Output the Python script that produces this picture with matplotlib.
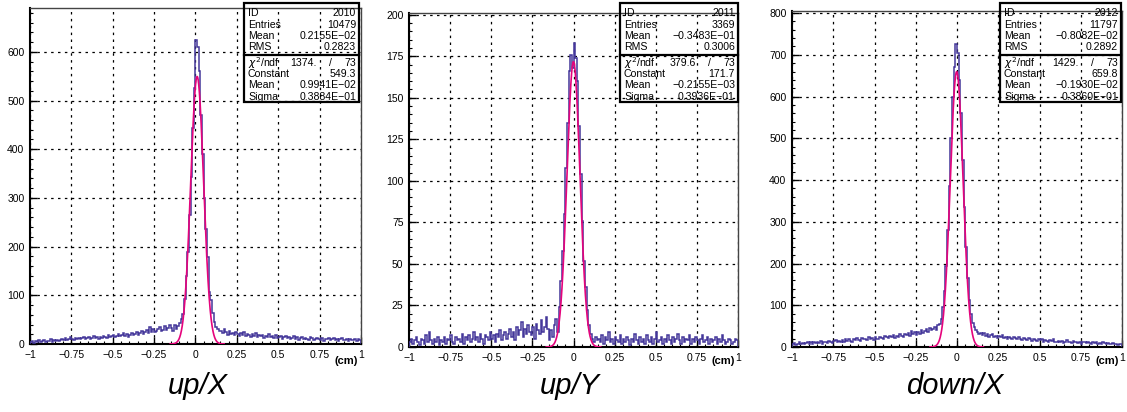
import numpy as np
import matplotlib
matplotlib.use("Agg")
import matplotlib.pyplot as plt
from matplotlib.patches import Rectangle
from matplotlib.ticker import MultipleLocator, FixedLocator, FixedFormatter

plt.rcParams['font.family'] = ['Liberation Sans', 'DejaVu Sans']

W, H = 1127, 412

# ---- histogram data: 200 bins of 0.01 cm between -1 and 1 ----
bin_edges = np.linspace(-1.0, 1.0, 201)

counts_up_x = [
    4, 6, 3, 7, 5, 8, 4, 6, 9, 5,
    7, 6, 10, 5, 8, 7, 9, 6, 8, 10,
    9, 12, 8, 11, 14, 10, 9, 13, 11, 12,
    10, 13, 15, 11, 12, 14, 10, 13, 16, 12,
    14, 11, 15, 13, 17, 14, 12, 18, 15, 16,
    19, 14, 17, 21, 16, 18, 22, 17, 20, 15,
    19, 23, 18, 21, 25, 19, 22, 26, 20, 24,
    28, 22, 34, 25, 30, 24, 27, 31, 35, 26,
    29, 36, 28, 33, 38,
    32, 27, 40, 31, 37, 44, 52, 62, 92, 139,
    188, 264, 343, 443, 525, 624, 610, 560, 470, 390,
    300, 236, 178, 106, 91, 64, 45, 35, 30, 27,
    27, 22, 30, 24, 19, 26, 21, 23, 18, 25,
    20, 17, 22, 19, 24, 16, 21, 18, 15, 20,
    17, 22, 14, 19, 16, 18, 13, 17, 15, 20,
    14, 16, 12, 18, 13, 15, 17, 11, 14, 16,
    12, 15, 10, 13, 16, 11, 14, 9, 12, 15,
    10, 13, 11, 9, 14, 12, 8, 11, 13, 10,
    9, 12, 7, 11, 10, 13, 8, 10, 12, 9,
    11, 7, 10, 12, 8, 9, 11, 7, 10, 8,
    9, 11, 6, 10, 8,
]

counts_up_y = [
    3, 5, 2, 4, 6, 3, 1, 5, 4, 2,
    7, 3, 9, 4, 2, 5, 3, 6, 1, 4,
    3, 6, 2, 5, 4, 7, 3, 2, 6, 4,
    5, 3, 8, 2, 6, 4, 7, 3, 5, 9,
    4, 6, 3, 8, 5, 2, 7, 6, 4, 9,
    5, 7, 3, 8, 6, 10, 4, 7, 9, 5,
    8, 11, 6, 9, 4, 12, 7, 10, 15, 6,
    11, 8, 13, 9, 7, 12, 5, 14, 10, 8,
    16, 9, 12, 18, 11,
    4, 10, 6, 13, 17, 9, 24, 40, 58, 80,
    108, 135, 166, 176, 168, 183, 174, 160, 133, 104,
    76, 52, 36, 22, 13, 8, 5, 3, 6, 4,
    5, 3, 7, 2, 6, 4, 9, 3, 5, 2,
    6, 4, 3, 7, 2, 5, 3, 6, 4, 1,
    5, 3, 8, 4, 2, 6, 3, 5, 2, 7,
    4, 3, 6, 2, 5, 9, 3, 4, 6, 2,
    5, 3, 7, 4, 2, 6, 3, 5, 8, 4,
    2, 6, 3, 5, 4, 7, 2, 5, 3, 6,
    4, 2, 5, 7, 3, 4, 6, 2, 5, 3,
    4, 6, 2, 5, 3, 7, 4, 2, 3, 5,
    4, 2, 3, 5, 4,
]

counts_down_x = [
    6, 9, 5, 8, 11, 7, 10, 6, 9, 12,
    8, 11, 7, 13, 9, 12, 10, 14, 8, 11,
    13, 10, 15, 12, 9, 14, 17, 11, 15, 13,
    16, 12, 18, 14, 20, 15, 13, 19, 16, 21,
    17, 15, 22, 18, 20, 16, 23, 19, 21, 17,
    24, 20, 18, 25, 22, 19, 26, 23, 21, 27,
    24, 29, 22, 27, 25, 31, 26, 24, 30, 28,
    33, 27, 38, 30, 35, 29, 36, 32, 40, 34,
    38, 44, 36, 46, 41,
    43, 48, 40, 52, 55, 68, 96, 135, 195, 280,
    385, 500, 600, 672, 727, 705, 640, 560, 448, 335,
    240, 165, 112, 78, 58, 47, 40, 36, 31, 34,
    29, 33, 26, 30, 24, 28, 31, 25, 27, 22,
    26, 23, 28, 21, 24, 20, 25, 22, 19, 23,
    21, 18, 24, 20, 17, 22, 19, 16, 21, 18,
    15, 20, 17, 14, 19, 16, 18, 13, 17, 15,
    12, 16, 14, 18, 13, 11, 15, 12, 14, 10,
    13, 16, 11, 12, 9, 14, 11, 13, 10, 12,
    8, 11, 13, 9, 12, 10, 7, 11, 9, 12,
    8, 10, 7, 11, 9, 6, 10, 8, 7, 9,
    6, 8, 5, 7, 6,
]

# ---- statistics / fit results printed in the boxes ----
titles = ["up/X", "up/Y", "down/X"]
hist_ids = ["2010", "2011", "2012"]
entries = ["10479", "3369", "11797"]
means = ["0.2155E-02", "-0.3483E-01", "-0.8082E-02"]
rms_values = ["0.2823", "0.3006", "0.2892"]
chi2_values = ["1374.", "379.6", "1429."]
ndf_values = ["73", "73", "73"]
fit_constants = ["549.3", "171.7", "659.8"]
fit_means = ["0.9941E-02", "-0.2155E-03", "-0.1930E-02"]
fit_sigmas = ["0.3884E-01", "0.3936E-01", "0.3860E-01"]

y_max = [690, 201, 805]
y_major = [100, 25, 100]
y_minor = [20, 5, 20]
x_ticks = [-1, -0.75, -0.5, -0.25, 0, 0.25, 0.5, 0.75, 1]
x_tick_labels = ["\u22121", "\u22120.75", "\u22120.5", "\u22120.25", "0",
                 "0.25", "0.5", "0.75", "1"]

# ---- layout in pixels: (left, right, top, bottom) ----
axes_px = [(30, 361, 8, 344), (409, 738, 13, 347), (792, 1122, 11, 347)]
box_px = [(244, 359, 3, 102), (620, 738, 3, 102), (1000, 1121, 3, 102)]
box_sep_px = 55
box_rows_px = [13.5, 24.8, 36.1, 47.4, 63.0, 74.2, 85.4, 96.6]
title_cx = [198, 570, 955]

HIST_COLOR = "#44379a"
FIT_COLOR = "#e5047c"
BOX_FONT = 7.6


def fx(x):
    return x / W


def fy(y):
    return 1 - y / H


def sci_text(s):
    return s.replace("-", "\u2212")


fig = plt.figure(figsize=(W / 100, H / 100), dpi=100)

all_counts = [counts_up_x, counts_up_y, counts_down_x]

for k in range(3):
    l, r, t, b = axes_px[k]
    ax = fig.add_axes([fx(l), fy(b), (r - l) / W, (b - t) / H])
    counts = np.asarray(all_counts[k], dtype=float)

    ax.stairs(counts, bin_edges, color=HIST_COLOR, linewidth=1.1, zorder=3)

    c = float(fit_constants[k])
    mu = float(fit_means[k])
    sg = float(fit_sigmas[k])
    xf = np.linspace(mu - 4.2 * sg, mu + 4.2 * sg, 400)
    ax.plot(xf, c * np.exp(-0.5 * ((xf - mu) / sg) ** 2),
            color=FIT_COLOR, linewidth=1.2, zorder=4)

    ax.set_xlim(-1, 1)
    ax.set_ylim(0, y_max[k])
    ax.xaxis.set_major_locator(FixedLocator(x_ticks))
    ax.xaxis.set_major_formatter(FixedFormatter(x_tick_labels))
    ax.xaxis.set_minor_locator(MultipleLocator(0.05))
    ax.yaxis.set_major_locator(MultipleLocator(y_major[k]))
    ax.yaxis.set_minor_locator(MultipleLocator(y_minor[k]))
    ax.tick_params(which='both', direction='in', top=False, right=False,
                   labelsize=7.5, color='black')
    ax.tick_params(which='major', length=5, width=1.0, pad=4)
    ax.tick_params(which='minor', length=2.5, width=0.8)
    ax.grid(True, which='major', color='black', linestyle=(0, (2, 3.5)),
            linewidth=0.9, zorder=1)
    ax.set_axisbelow(True)
    for side in ['left', 'bottom']:
        ax.spines[side].set_linewidth(1.5)
    for side in ['top', 'right']:
        ax.spines[side].set_linewidth(1.0)
        ax.spines[side].set_color('#444444')

    # unit label under the x axis
    fig.text(fx(r - 3), fy(361), "(cm)", ha='right', va='center',
             fontsize=8, fontweight='bold')

    # panel title
    fig.text(fx(title_cx[k]), fy(386), titles[k], ha='center', va='center',
             fontsize=21, style='italic')

    # statistics box
    bl, br, bt, bb = box_px[k]
    fig.patches.append(Rectangle((fx(bl), fy(bb)), (br - bl) / W, (bb - bt) / H,
                                 transform=fig.transFigure, fill=False,
                                 edgecolor='black', linewidth=1.6, zorder=10))
    fig.lines.append(plt.Line2D([fx(bl), fx(br)],
                                [fy(box_sep_px), fy(box_sep_px)],
                                transform=fig.transFigure, color='black',
                                linewidth=1.6, zorder=10))
    rows_left = ["ID", "Entries", "Mean", "RMS",
                 None, "Constant", "Mean", "Sigma"]
    rows_right = [hist_ids[k], entries[k], sci_text(means[k]), rms_values[k],
                  None, fit_constants[k], sci_text(fit_means[k]),
                  sci_text(fit_sigmas[k])]
    for i in range(8):
        yy = fy(box_rows_px[i])
        if rows_left[i] is None:
            fig.text(fx(bl + 4), yy, r"$\chi^2$/ndf", ha='left', va='center',
                     fontsize=BOX_FONT)
            fig.text(fx(br - 42), yy, chi2_values[k], ha='right', va='center',
                     fontsize=BOX_FONT)
            fig.text(fx(br - 29), yy, "/", ha='center', va='center',
                     fontsize=BOX_FONT)
            fig.text(fx(br - 3), yy, ndf_values[k], ha='right', va='center',
                     fontsize=BOX_FONT)
        else:
            fig.text(fx(bl + 4), yy, rows_left[i], ha='left', va='center',
                     fontsize=BOX_FONT)
            fig.text(fx(br - 3), yy, rows_right[i], ha='right', va='center',
                     fontsize=BOX_FONT)

fig.savefig("out.png", dpi=100)
